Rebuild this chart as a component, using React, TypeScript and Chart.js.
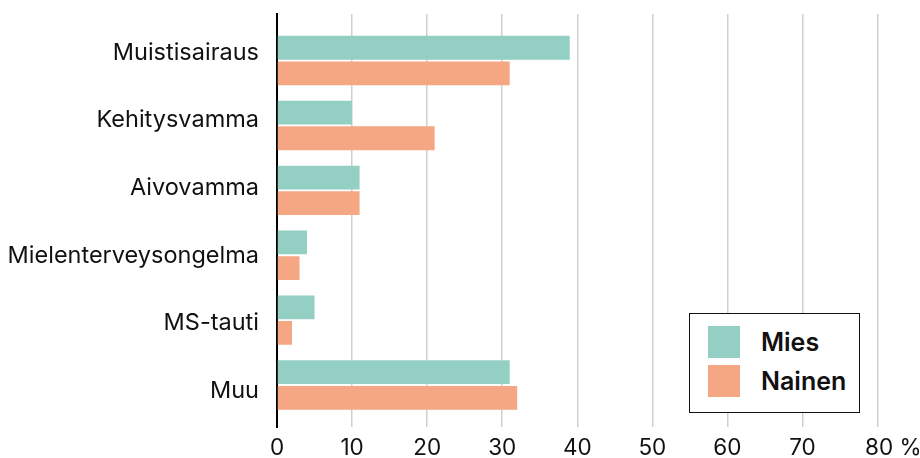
import React, { useEffect, useRef } from "react";
import { Chart, registerables } from "chart.js";

Chart.register(...registerables);

const CATEGORIES = ["Muistisairaus", "Kehitysvamma", "Aivovamma", "Mielenterveysongelma", "MS-tauti", "Muu"];
const SERIES_NAMES = ["Mies", "Nainen"];
const MIES = [39, 10, 11, 4, 5, 31];
const NAINEN = [31, 21, 11, 3, 2, 32];
const COLORS = ["#93cfc3", "#f5a683"];
const X_TICKS = [0, 10, 20, 30, 40, 50, 60, 70, 80];
const X_UNIT = "%";

const FONT = "Inter, 'Noto Sans', sans-serif";

export default function App() {
  const ref = useRef<HTMLCanvasElement | null>(null);

  useEffect(() => {
    document.body.style.margin = "0";
    const canvas = ref.current;
    if (!canvas) return;
    const series = [MIES, NAINEN];
    const indexTicks = (scale: any) => {
      scale.ticks = CATEGORIES.map((_, i) => ({ value: i }));
    };
    const chart = new Chart(canvas, {
      type: "bar",
      data: {
        datasets: series.map((vals, s) => ({
          label: SERIES_NAMES[s],
          data: vals.map((v, i) => ({ x: v, y: i })),
          backgroundColor: COLORS[s],
          borderWidth: 0,
          categoryPercentage: 0.79,
          barPercentage: 0.93,
          yAxisID: "y",
        })),
      },
      options: {
        indexAxis: "y",
        animation: false,
        responsive: false,
        maintainAspectRatio: false,
        layout: { padding: { top: 0, right: 42.5, bottom: 0, left: 0 } },
        plugins: { legend: { display: false }, tooltip: { enabled: false } },
        scales: {
          x: {
            type: "linear",
            min: 0,
            max: 80,
            position: "bottom",
            offset: false,
            afterBuildTicks: (scale: any) => {
              scale.ticks = X_TICKS.map((v) => ({ value: v }));
            },
            afterFit: (scale: any) => {
              scale.height = 31;
              scale.paddingLeft = 0;
              scale.paddingRight = 0;
            },
            grid: { color: "#cfcfcf", lineWidth: 1.5, drawTicks: false, offset: false },
            border: { display: false },
            ticks: {
              padding: 8,
              color: "#111",
              font: { family: FONT, size: 22.5, weight: 400 },
              maxRotation: 0,
              autoSkip: false,
              callback: (v: any) => (v === 80 ? "     80 " + X_UNIT : String(v)),
            },
          },
          y: {
            type: "linear",
            display: false,
            reverse: true,
            offset: false,
            min: -0.718,
            max: 5.647,
            afterBuildTicks: indexTicks,
          },
          yl: {
            type: "linear",
            position: "left",
            reverse: true,
            offset: false,
            min: -0.547,
            max: 5.554,
            afterBuildTicks: indexTicks,
            afterFit: (scale: any) => {
              scale.width = 277;
              scale.paddingTop = 14;
              scale.paddingBottom = 0;
            },
            grid: { display: false, drawTicks: false, offset: false },
            border: { display: true, color: "#000", width: 2 },
            ticks: {
              padding: 18,
              labelOffset: 1.5,
              color: "#111",
              font: { family: FONT, size: 23.5, weight: 400 },
              autoSkip: false,
              callback: (v: any) => CATEGORIES[v],
            },
          },
        },
      } as any,
    });
    return () => chart.destroy();
  }, []);

  return (
    <div style={{ position: "relative", width: 920, height: 458 }}>
      <canvas ref={ref} width={920} height={458} style={{ display: "block" }} />
      <div
        style={{
          position: "absolute",
          left: 689,
          top: 313,
          width: 171,
          height: 100,
          border: "1px solid #111",
          background: "#fff",
          boxSizing: "border-box",
          fontFamily: FONT,
        }}
      >
        {SERIES_NAMES.map((name, i) => (
          <div
            key={name}
            style={{
              position: "absolute",
              left: 18,
              top: 12 + i * 39,
              height: 32,
              display: "flex",
              alignItems: "center",
            }}
          >
            <span style={{ width: 32, height: 32, background: COLORS[i], display: "inline-block" }} />
            <span style={{ marginLeft: 21, fontSize: 25, fontWeight: 600, color: "#111", lineHeight: "32px" }}>
              {name}
            </span>
          </div>
        ))}
      </div>
    </div>
  );
}
